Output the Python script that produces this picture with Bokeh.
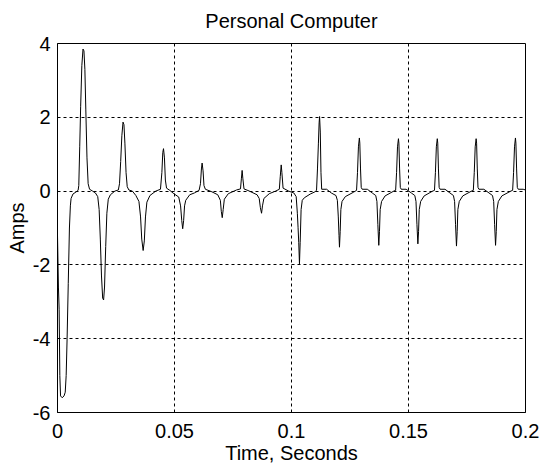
from bokeh.plotting import figure
from bokeh.models import Range1d, FixedTicker, NumeralTickFormatter
from bokeh.embed import file_html
from bokeh.resources import INLINE

title_text = "Personal Computer"
x_label = "Time, Seconds"
y_label = "Amps"
x_ticks = [0, 0.05, 0.1, 0.15, 0.2]
y_ticks = [-6, -4, -2, 0, 2, 4]
x_limits = (0.0, 0.2)
y_limits = (-6.0, 4.0)

# (time in s, current in A)
startup = [
    (0.0000, -1.20), (0.0004, -2.60), (0.0007, -3.20), (0.0010, -5.00), (0.0013, -5.55),
    (0.0020, -5.60), (0.0028, -5.55), (0.0033, -5.45), (0.0037, -5.00), (0.0041, -4.00),
    (0.0046, -2.50), (0.0051, -1.00), (0.0055, -0.40), (0.0058, -0.20), (0.0066, -0.08),
    (0.0080, -0.02), (0.0088, 0.02), (0.0091, 0.15), (0.0095, 1.20), (0.0099, 2.30),
    (0.0104, 3.40), (0.0109, 3.85), (0.0113, 3.80), (0.0117, 3.30), (0.0121, 2.20),
    (0.0126, 0.90), (0.0131, 0.20), (0.0137, 0.05), (0.0150, 0.00), (0.0162, -0.05),
    (0.0172, -0.15), (0.0178, -0.50), (0.0183, -1.30), (0.0188, -2.30), (0.0193, -2.90),
    (0.0197, -2.95), (0.0201, -2.60), (0.0206, -1.50), (0.0211, -0.60), (0.0217, -0.22),
    (0.0226, -0.10), (0.0245, 0.00), (0.0260, 0.03), (0.0265, 0.20), (0.0270, 0.80),
    (0.0275, 1.50), (0.0280, 1.87), (0.0284, 1.80), (0.0288, 1.30), (0.0293, 0.50),
    (0.0298, 0.12), (0.0305, 0.03), (0.0320, 0.00), (0.0335, -0.12), (0.0348, -0.28),
    (0.0355, -0.70), (0.0360, -1.30), (0.0366, -1.61), (0.0371, -1.35), (0.0376, -0.70),
    (0.0382, -0.30), (0.0395, -0.12), (0.0420, 0.00), (0.0440, 0.05), (0.0446, 0.50),
    (0.0450, 1.05), (0.0453, 1.15), (0.0457, 0.90), (0.0461, 0.30), (0.0466, 0.08),
    (0.0480, 0.02),
]
middle = [
    (0.0497, -0.07), (0.0518, -0.16), (0.0526, -0.40), (0.0531, -0.80), (0.0535, -1.02),
    (0.0539, -0.80), (0.0543, -0.40), (0.0548, -0.25), (0.0565, -0.10), (0.0585, -0.05),
    (0.0605, 0.02), (0.0611, 0.20), (0.0615, 0.60), (0.0618, 0.76), (0.0622, 0.55),
    (0.0626, 0.15), (0.0632, 0.05), (0.0660, -0.02), (0.0685, -0.10), (0.0696, -0.25),
    (0.0700, -0.55), (0.0704, -0.72), (0.0708, -0.50), (0.0713, -0.22), (0.0730, -0.07),
    (0.0765, 0.03), (0.0782, 0.06), (0.0786, 0.35), (0.0789, 0.56), (0.0792, 0.35),
    (0.0797, 0.06), (0.0820, 0.00), (0.0853, -0.10), (0.0862, -0.20), (0.0867, -0.45),
    (0.0872, -0.60), (0.0876, -0.40), (0.0882, -0.20), (0.0905, -0.07), (0.0932, 0.00),
    (0.0948, 0.05), (0.0952, 0.40), (0.0956, 0.71), (0.0959, 0.50), (0.0964, 0.08),
    (0.0988, 0.00), (0.1010, -0.05), (0.1020, -0.15), (0.1025, -0.60), (0.1028, -0.98),
    (0.1031, -1.40), (0.1034, -1.97), (0.1037, -1.40), (0.1041, -0.50), (0.1046, -0.25),
    (0.1055, -0.18), (0.1080, -0.08),
]
steady = [
    (0.1100, -0.02), (0.1107, 0.02), (0.1111, 0.60), (0.1115, 1.30), (0.1118, 1.85),
    (0.1120, 2.02), (0.1123, 1.60), (0.1126, 0.50), (0.1129, 0.05), (0.1150, 0.05),
    (0.1170, -0.05), (0.1190, -0.12), (0.1196, -0.25), (0.1200, -0.70), (0.1203, -1.20),
    (0.1205, -1.52), (0.1208, -1.10), (0.1211, -0.50), (0.1216, -0.28), (0.1230, -0.15),
    (0.1265, -0.03), (0.1278, 0.02), (0.1282, 0.50), (0.1286, 1.20), (0.1290, 1.44),
    (0.1292, 1.30), (0.1295, 0.60), (0.1298, 0.10), (0.1302, 0.05), (0.1324, 0.05),
    (0.1345, -0.05), (0.1360, -0.12), (0.1365, -0.28), (0.1369, -0.90), (0.1373, -1.47),
    (0.1376, -1.10), (0.1379, -0.50), (0.1385, -0.28), (0.1400, -0.13), (0.1437, 0.00),
    (0.1445, 0.02), (0.1449, 0.50), (0.1453, 1.20), (0.1457, 1.42), (0.1459, 1.30),
    (0.1462, 0.60), (0.1465, 0.10), (0.1469, 0.05), (0.1490, 0.05), (0.1512, -0.05),
    (0.1527, -0.12), (0.1532, -0.28), (0.1536, -0.90), (0.1540, -1.43), (0.1543, -1.10),
    (0.1546, -0.50), (0.1552, -0.28), (0.1567, -0.13), (0.1603, 0.00), (0.1611, 0.02),
    (0.1615, 0.50), (0.1619, 1.20), (0.1623, 1.42), (0.1625, 1.30), (0.1628, 0.60),
    (0.1631, 0.10), (0.1635, 0.05), (0.1656, 0.05), (0.1677, -0.05), (0.1692, -0.12),
    (0.1697, -0.28), (0.1701, -0.90), (0.1705, -1.49), (0.1708, -1.10), (0.1711, -0.50),
    (0.1717, -0.28), (0.1732, -0.13), (0.1769, 0.00), (0.1777, 0.02), (0.1781, 0.50),
    (0.1785, 1.20), (0.1789, 1.42), (0.1791, 1.30), (0.1794, 0.60), (0.1797, 0.10),
    (0.1801, 0.05), (0.1822, 0.05), (0.1844, -0.05), (0.1859, -0.12), (0.1864, -0.28),
    (0.1868, -0.90), (0.1872, -1.47), (0.1875, -1.10), (0.1878, -0.50), (0.1884, -0.28),
    (0.1899, -0.13), (0.1937, 0.00), (0.1945, 0.02), (0.1949, 0.50), (0.1953, 1.20),
    (0.1957, 1.44), (0.1959, 1.30), (0.1962, 0.60), (0.1965, 0.10), (0.1969, 0.05),
    (0.1990, 0.05), (0.2000, 0.03),
]

samples = startup + middle + steady
time_s = [s[0] for s in samples]
current_a = [s[1] for s in samples]

FONT = "Liberation Sans"

p = figure(
    width=541, height=467,
    output_backend="svg", toolbar_location=None,
    x_range=Range1d(*x_limits), y_range=Range1d(*y_limits),
    min_border_left=57, min_border_right=16, min_border_top=43, min_border_bottom=55,
    background_fill_color="white", border_fill_color="white",
)

p.title.text = title_text
p.title.align = "center"
p.title.vertical_align = "top"
p.title.text_font = FONT
p.title.text_font_size = "20px"
p.title.text_font_style = "normal"
p.title.text_color = "black"
p.title.standoff = 19

p.line(time_s, current_a, line_color="black", line_width=1)

p.xaxis.ticker = FixedTicker(ticks=x_ticks)
p.yaxis.ticker = FixedTicker(ticks=y_ticks)
p.xaxis.formatter = NumeralTickFormatter(format="0.[00]")
p.yaxis.formatter = NumeralTickFormatter(format="0")
p.xaxis.axis_label = x_label
p.yaxis.axis_label = y_label

for ax in (p.xaxis, p.yaxis):
    ax.axis_label_text_font = FONT
    ax.axis_label_text_font_size = "20px"
    ax.axis_label_text_font_style = "normal"
    ax.axis_label_text_color = "black"
    ax.major_label_text_font = FONT
    ax.major_label_text_font_size = "20px"
    ax.major_label_text_color = "black"
    ax.axis_line_color = "black"
    ax.major_tick_in = 0
    ax.major_tick_out = 0
    ax.minor_tick_line_color = None

p.xaxis.major_label_standoff = 11
p.yaxis.major_label_standoff = 7
p.xaxis.axis_label_standoff = 1
p.yaxis.axis_label_standoff = 2

for g in (p.xgrid, p.ygrid):
    g.grid_line_color = "black"
    g.grid_line_dash = "3 3"
    g.grid_line_width = 1

p.outline_line_color = "black"
p.outline_line_width = 1

open("out.html", "w").write(file_html(p, INLINE))
